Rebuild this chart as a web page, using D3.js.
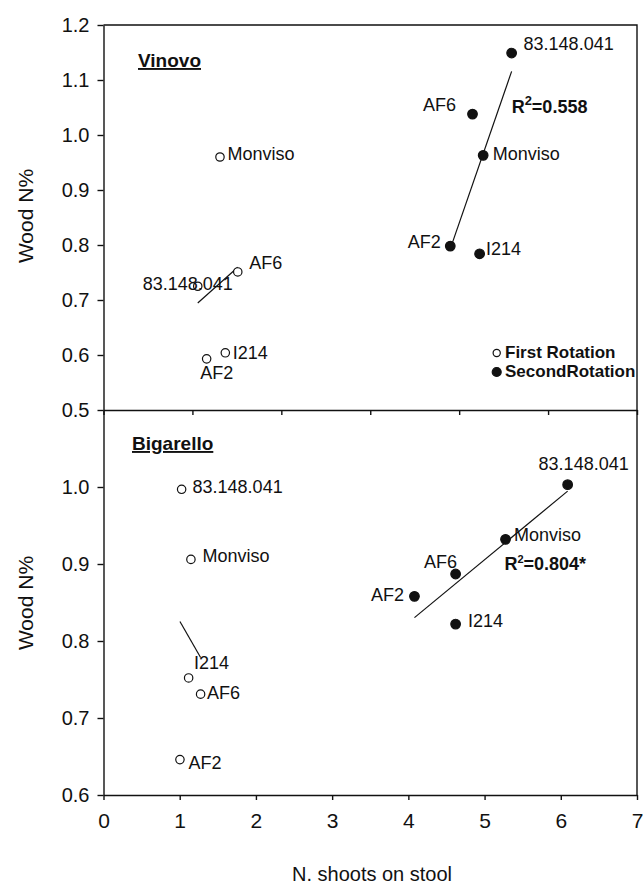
<!DOCTYPE html>
<meta charset="utf-8">
<style>
body { margin: 0; background: #fff; }
text { font-family: Arial, "Liberation Sans", sans-serif; fill: #111; }
.axis path, .axis line { stroke: #111; stroke-width: 1.4; }
.axis text { font-size: 20px; fill: #111; }
.axis--x text { font-size: 21px; }
.frame { stroke: #111; stroke-width: 1.4; fill: none; }
.fit { stroke: #111; stroke-width: 1.2; fill: none; }
.lbl { font-size: 18px; }
</style>
<svg id="svg" width="643" height="886"></svg>
<script src="https://d3js.org/d3.v7.min.js"></script>
<script>
// cultivar order used by every series below
var cultivars = ["83.148.041", "AF6", "Monviso", "AF2", "I214"];

// Vinovo (top panel, its own x scale 0-6)
var vinovoFirstX  = [1.06, 1.51, 1.31, 1.16, 1.37];
var vinovoFirstY  = [0.725, 0.751, 0.960, 0.593, 0.604];
var vinovoSecondX = [4.59, 4.15, 4.27, 3.90, 4.23];
var vinovoSecondY = [1.149, 1.038, 0.963, 0.798, 0.784];

// Bigarello (bottom panel, x scale 0-7)
var bigarelloFirstX  = [1.025, 1.274, 1.147, 1.003, 1.117];
var bigarelloFirstY  = [0.997, 0.731, 0.906, 0.646, 0.752];
var bigarelloSecondX = [6.09, 4.62, 5.275, 4.08, 4.62];
var bigarelloSecondY = [1.003, 0.887, 0.932, 0.858, 0.822];

var vinovoTicksY = [0.5, 0.6, 0.7, 0.8, 0.9, 1.0, 1.1, 1.2];
var bigarelloTicksY = [0.6, 0.7, 0.8, 0.9, 1.0];
var ticksX = [0, 1, 2, 3, 4, 5, 6, 7];
var vinovoTicksX = [0, 1, 2, 3, 4, 5, 6];

var vinovoR2 = "0.558";
var bigarelloR2 = "0.804*";

// label offsets in pixels (centre, baseline) relative to each point
var offVinovoFirst     = [[-10, 4], [28, -3], [41, 3], [10, 20], [25, 6]];
var offVinovoSecond    = [[57, -3], [-33, -3], [43, 5], [-26, 2], [24, 1]];
var offBigarelloFirst  = [[56, 4], [23, 5], [45, 3], [25, 9], [23, -9]];
var offBigarelloSecond = [[16, -15], [-15, -6], [42, 2], [-27, 5], [30, 3]];

var svg = d3.select("svg");
var left = 103.5, right = 637, topY = 25, midY = 410, bottomY = 795;

var xTop = d3.scaleLinear().domain([0, 6]).range([left, right]);
var yTop = d3.scaleLinear().domain([0.5, 1.2]).range([midY, topY]);
var xBot = d3.scaleLinear().domain([0, 7]).range([left, right]);
var yBot = d3.scaleLinear().domain([0.6, 1.1]).range([bottomY, midY]);

function fitLine(xs, ys) {
  var mx = d3.mean(xs), my = d3.mean(ys), sxy = 0, sxx = 0;
  xs.forEach(function(x, i) { sxy += (x - mx) * (ys[i] - my); sxx += (x - mx) * (x - mx); });
  var b = sxy / sxx, a = my - b * mx;
  var x0 = d3.min(xs), x1 = d3.max(xs);
  return [[x0, a + b * x0], [x1, a + b * x1]];
}

function drawSeries(xs, ys, offs, x, y, filled) {
  var pts = xs.map(function(d, i) { return {x: d, y: ys[i], name: cultivars[i], off: offs[i]}; });
  var fl = fitLine(xs, ys);
  svg.append("line").attr("class", "fit")
    .attr("x1", x(fl[0][0])).attr("y1", y(fl[0][1]))
    .attr("x2", x(fl[1][0])).attr("y2", y(fl[1][1]));
  svg.append("g").selectAll("circle").data(pts).enter().append("circle")
    .attr("cx", function(d) { return x(d.x); })
    .attr("cy", function(d) { return y(d.y); })
    .attr("r", filled ? 4.8 : 4.2)
    .attr("fill", filled ? "#111" : "#fff")
    .attr("stroke", "#111").attr("stroke-width", 1.2);
  svg.append("g").selectAll("text").data(pts).enter().append("text")
    .attr("class", "lbl")
    .attr("text-anchor", "middle")
    .attr("x", function(d) { return x(d.x) + d.off[0]; })
    .attr("y", function(d) { return y(d.y) + d.off[1]; })
    .text(function(d) { return d.name; });
}

// frame
svg.append("path").attr("class", "frame")
  .attr("d", "M" + left + "," + topY + "H" + right + "V" + bottomY);

// top panel axes
svg.append("g").attr("class", "axis axis--y")
  .attr("transform", "translate(" + left + ",0)")
  .call(d3.axisLeft(yTop).tickValues(vinovoTicksY).tickFormat(d3.format(".1f")).tickSize(6).tickSizeOuter(0).tickPadding(8));
svg.append("g").attr("class", "axis")
  .attr("transform", "translate(0," + midY + ")")
  .call(d3.axisBottom(xTop).tickValues(vinovoTicksX).tickFormat("").tickSize(5).tickSizeOuter(0));

// bottom panel axes
svg.append("g").attr("class", "axis axis--y")
  .attr("transform", "translate(" + left + ",0)")
  .call(d3.axisLeft(yBot).tickValues(bigarelloTicksY).tickFormat(d3.format(".1f")).tickSize(6).tickSizeOuter(0).tickPadding(8));
svg.append("g").attr("class", "axis axis--x")
  .attr("transform", "translate(0," + bottomY + ")")
  .call(d3.axisBottom(xBot).tickValues(ticksX).tickFormat(d3.format("d")).tickSize(5).tickSizeOuter(0).tickPadding(13));

// series
drawSeries(vinovoFirstX, vinovoFirstY, offVinovoFirst, xTop, yTop, false);
drawSeries(vinovoSecondX, vinovoSecondY, offVinovoSecond, xTop, yTop, true);
drawSeries(bigarelloFirstX, bigarelloFirstY, offBigarelloFirst, xBot, yBot, false);
drawSeries(bigarelloSecondX, bigarelloSecondY, offBigarelloSecond, xBot, yBot, true);

// R2 annotations
function r2(xp, yp, val, supSize, supDy) {
  var t = svg.append("text").attr("x", xp).attr("y", yp)
    .attr("font-size", 18).attr("font-weight", "bold");
  t.append("tspan").text("R");
  t.append("tspan").attr("dy", -supDy).attr("font-size", supSize).text("2");
  t.append("tspan").attr("dy", supDy).text("=" + val);
}
r2(xTop(4.59), yTop(1.04), vinovoR2, 13, 8);
r2(xBot(5.26), yBot(0.892), bigarelloR2, 11, 7);

// panel titles
svg.append("text").attr("x", 138).attr("y", 67).attr("font-size", 19)
  .attr("font-weight", "bold").attr("text-decoration", "underline").text("Vinovo");
svg.append("text").attr("x", 132).attr("y", 450).attr("font-size", 19)
  .attr("font-weight", "bold").attr("text-decoration", "underline").text("Bigarello");

// legend
var legend = [{name: "First Rotation", filled: false, y: 353}, {name: "SecondRotation", filled: true, y: 372}];
legend.forEach(function(d) {
  svg.append("circle").attr("cx", 496.7).attr("cy", d.y).attr("r", d.filled ? 4.5 : 3.6)
    .attr("fill", d.filled ? "#111" : "#fff").attr("stroke", "#111").attr("stroke-width", 1.2);
  svg.append("text").attr("x", 505).attr("y", d.y + 5).attr("font-size", 17)
    .attr("font-weight", "bold").text(d.name);
});

// axis titles
[216, 603].forEach(function(cy) {
  svg.append("text").attr("transform", "translate(33," + cy + ") rotate(-90)")
    .attr("text-anchor", "middle").attr("font-size", 21).text("Wood N%");
});
svg.append("text").attr("x", 372).attr("y", 881).attr("text-anchor", "middle")
  .attr("font-size", 20).text("N. shoots on stool");
</script>
